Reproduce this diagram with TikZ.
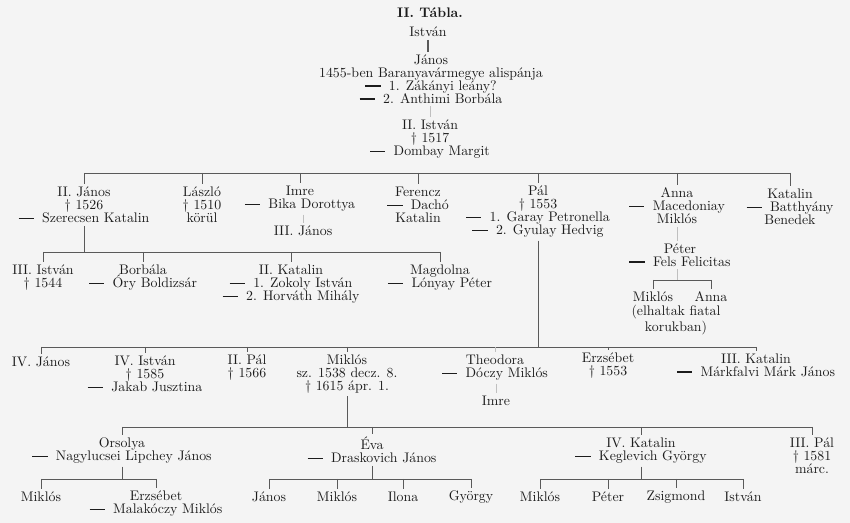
\documentclass[tikz,border=0pt]{standalone}
\usepackage{fontspec}
\usetikzlibrary{positioning}
\definecolor{papir}{RGB}{244,244,244}
\definecolor{tinta}{RGB}{28,28,28}
\newcommand{\hazas}{\rule[0.26em]{1.1em}{0.09em}\hspace{0.6em}}

\begin{document}
\begin{tikzpicture}[x=0.75pt,y=-0.75pt,nev/.style={align=center,inner sep=2pt,text=tinta,font=\fontsize{10.4}{9.75}\selectfont\addfontfeatures{LetterSpace=5}},tie/.style={draw=black!65,line width=0.6pt},halvany/.style={draw=black!25,line width=0.5pt}]
\useasboundingbox (0,0) rectangle (850,523);
\fill[papir] (0,0) rectangle (850,523);
% fej
\node[nev,font=\fontsize{10.4}{9.75}\selectfont\bfseries] (cim) at (430,13) {II. Tábla.};
\node[nev] (istvan0) at (428,32) {István};
\node[nev] (janos0) at (431,79) {János\\1455-ben Baranyavármegye alispánja\\\hazas 1. Zákányi leány?\\\hazas 2. Anthimi Borbála};
\node[nev] (istvan2) at (430,139) {II. István\\\dag\ 1517\\\hazas Dombay Margit};
\draw[tie,line width=1.2pt] (istvan0) -- (istvan0 |- janos0.north);
\draw[halvany] (istvan2.north |- janos0.south) -- (istvan2.north);
% 1. sor
\node[nev] (janos2) at (84,205) {II. János\\\dag\ 1526\\\hazas Szerecsen Katalin};
\node[nev] (laszlo) at (202,205) {László\\\dag\ 1510\\körül};
\node[nev] (imre1) at (300,199) {Imre\\\hazas Bika Dorottya};
\node[nev] (janos3) at (303,231) {III. János};
\node[nev] (ferencz) at (418,205) {Ferencz\\\hazas Dachó\\Katalin};
\node[nev] (pal1) at (538,212) {Pál\\\dag\ 1553\\\hazas 1. Garay Petronella\\\hazas 2. Gyulay Hedvig};
\node[nev] (anna1) at (677,206) {Anna\\\hazas Macedoniay\\Miklós};
\node[nev] (katalin1) at (790,207) {Katalin\\\hazas Batthyány\\Benedek};
\node[nev] (peter1) at (680,255) {Péter\\\hazas Fels Felicitas};
\node[nev] (miklos1) at (653,297) {Miklós};
\node[nev] (anna2) at (711,297) {Anna};
\node[nev] (korukban) at (676,320) {(elhaltak fiatal\\korukban)};
\coordinate (sor1) at (0,173);
\draw[tie] (janos2.north |- sor1) -- (katalin1.north |- sor1);
\draw[tie] (janos2.north |- sor1) -- (janos2.north); \draw[tie] (laszlo.north |- sor1) -- (laszlo.north);
\draw[tie] (imre1.north |- sor1) -- (imre1.north); \draw[tie] (ferencz.north |- sor1) -- (ferencz.north);
\draw[tie] (pal1.north |- sor1) -- (pal1.north); \draw[tie] (anna1.north |- sor1) -- (anna1.north);
\draw[tie] (katalin1.north |- sor1) -- (katalin1.north);
\draw[halvany] (imre1.south -| janos3) -- (janos3.north);
\draw[halvany] (anna1.south) -- (anna1.south |- peter1.north);
\coordinate (sorp) at (0,280);
\draw[halvany] (anna1.south |- peter1.south) -- (anna1.south |- sorp);
\draw[tie] (miklos1.north |- sorp) -- (anna2.north |- sorp);
\draw[tie] (miklos1.north |- sorp) -- (miklos1.north); \draw[tie] (anna2.north |- sorp) -- (anna2.north);
% 2. sor
\node[nev] (istvan3) at (43,278) {III. István\\\dag\ 1544};
\node[nev] (borbala) at (143,278) {Borbála\\\hazas Óry Boldizsár};
\node[nev] (katalin2) at (291,284) {II. Katalin\\\hazas 1. Zokoly István\\\hazas 2. Horváth Mihály};
\node[nev] (magdolna) at (440,278) {Magdolna\\\hazas Lónyay Péter};
\coordinate (sor2) at (0,252);
\draw[tie] (janos2.south) -- (janos2.south |- sor2);
\draw[tie] (istvan3.north |- sor2) -- (magdolna.north |- sor2);
\draw[tie] (istvan3.north |- sor2) -- (istvan3.north); \draw[tie] (borbala.north |- sor2) -- (borbala.north);
\draw[tie] (katalin2.north |- sor2) -- (katalin2.north); \draw[tie] (magdolna.north |- sor2) -- (magdolna.north);
% 3. sor
\node[nev] (janos4) at (41,362) {IV. János};
\node[nev] (istvan4) at (145,374) {IV. István\\\dag\ 1585\\\hazas Jakab Jusztina};
\node[nev] (pal2) at (247,368) {II. Pál\\\dag\ 1566};
\node[nev] (miklos3) at (347,374) {Miklós\\sz. 1538 decz. 8.\\\dag\ 1615 ápr. 1.};
\node[nev] (theodora) at (495,368) {Theodora\\\hazas Dóczy Miklós};
\node[nev] (imre4) at (496,401) {Imre};
\node[nev] (erzsebet3) at (608,366) {Erzsébet\\\dag\ 1553};
\node[nev] (katalin3) at (756,365) {III. Katalin\\\hazas Márkfalvi Márk János};
\coordinate (sor3) at (0,347);
\draw[tie] (pal1.south) -- (pal1.south |- sor3);
\draw[tie] (janos4.north |- sor3) -- (katalin3.north |- sor3);
\draw[tie] (janos4.north |- sor3) -- (janos4.north); \draw[tie] (istvan4.north |- sor3) -- (istvan4.north);
\draw[tie] (pal2.north |- sor3) -- (pal2.north); \draw[tie] (miklos3.north |- sor3) -- (miklos3.north);
\draw[halvany] (theodora.north |- sor3) -- (theodora.north); \draw[tie] (erzsebet3.north |- sor3) -- (erzsebet3.north);
\draw[tie] (katalin3.north |- sor3) -- (katalin3.north);
\draw[halvany] (theodora.south -| imre4) -- (imre4.north);
% 4. sor
\node[nev] (orsolya) at (122,451) {Orsolya\\\hazas Nagylucsei Lipchey János};
\node[nev] (eva) at (372,450) {Éva\\\hazas Draskovich János};
\node[nev] (katalin4) at (641,451) {IV. Katalin\\\hazas Keglevich György};
\node[nev] (pal3) at (812,456) {III. Pál\\\dag\ 1581\\márc.};
\coordinate (sor4) at (0,427);
\draw[tie] (miklos3.south) -- (miklos3.south |- sor4);
\draw[tie] (orsolya.north |- sor4) -- (pal3.north |- sor4);
\draw[tie] (orsolya.north |- sor4) -- (orsolya.north); \draw[tie] (eva.north |- sor4) -- (eva.north);
\draw[tie] (katalin4.north |- sor4) -- (katalin4.north); \draw[tie] (pal3.north |- sor4) -- (pal3.north);
% 5. sor
\node[nev] (miklos5) at (41,497) {Miklós};
\node[nev] (erzsebet5) at (156,504) {Erzsébet\\\hazas Malakóczy Miklós};
\node[nev] (janos5) at (269,497) {János};
\node[nev] (miklos6) at (337,497) {Miklós};
\node[nev] (ilona) at (403,497) {Ilona};
\node[nev] (gyorgy) at (471,497) {György};
\node[nev] (miklos7) at (540,497) {Miklós};
\node[nev] (peter7) at (608,497) {Péter};
\node[nev] (zsigmond) at (676,497) {Zsigmond};
\node[nev] (istvan7) at (743,497) {István};
\coordinate (sor5) at (0,479);
\draw[tie] (orsolya.south) -- (orsolya.south |- sor5); \draw[tie] (miklos5.north |- sor5) -- (erzsebet5.north |- sor5);
\draw[tie] (miklos5.north |- sor5) -- (miklos5.north); \draw[tie] (erzsebet5.north |- sor5) -- (erzsebet5.north);
\draw[tie] (eva.south) -- (eva.south |- sor5); \draw[tie] (janos5.north |- sor5) -- (gyorgy.north |- sor5);
\draw[tie] (janos5.north |- sor5) -- (janos5.north); \draw[tie] (miklos6.north |- sor5) -- (miklos6.north);
\draw[tie] (ilona.north |- sor5) -- (ilona.north); \draw[tie] (gyorgy.north |- sor5) -- (gyorgy.north);
\draw[tie] (katalin4.south) -- (katalin4.south |- sor5); \draw[tie] (miklos7.north |- sor5) -- (istvan7.north |- sor5);
\draw[tie] (miklos7.north |- sor5) -- (miklos7.north); \draw[tie] (peter7.north |- sor5) -- (peter7.north);
\draw[tie] (zsigmond.north |- sor5) -- (zsigmond.north); \draw[tie] (istvan7.north |- sor5) -- (istvan7.north);
\end{tikzpicture}
\end{document}
